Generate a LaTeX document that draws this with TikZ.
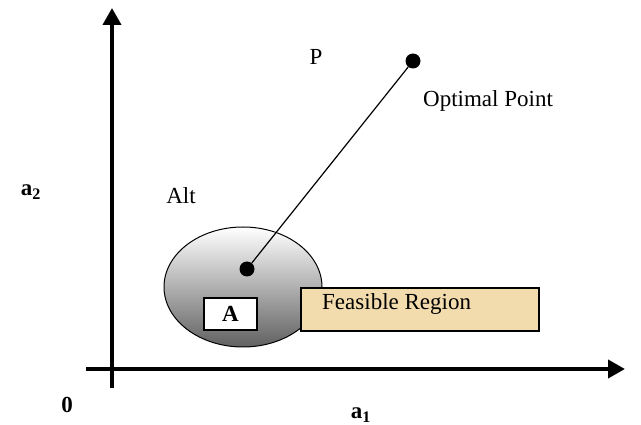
\documentclass[tikz,border=0pt]{standalone}
\usepackage{fontspec}
\setmainfont{Liberation Serif}
\usetikzlibrary{arrows.meta,shapes.geometric}
\definecolor{tan}{HTML}{F2DCAE}
\begin{document}
\begin{tikzpicture}[x=1pt,y=-1pt,
  axis/.style={line width=4pt,-{Triangle[length=17pt,width=18pt]}},
  lbl/.style={font=\fontsize{23}{27}\selectfont,inner sep=0pt},
  blbl/.style={font=\fontsize{23}{27}\selectfont\bfseries,inner sep=0pt},
  dot/.style={circle,fill=black,minimum size=15pt,inner sep=0pt}]
\useasboundingbox (0,0) rectangle (641,425);
\coordinate (yb) at (112,388);
\coordinate (yt) at (112,8);
\coordinate (xl) at (86,369);
\coordinate (xr) at (625,369);
\draw[axis] (yb) -- (yt);
\draw[axis] (xl) -- (xr);
\node[ellipse,draw,line width=1pt,minimum width=158pt,minimum height=120pt,
  top color=white,bottom color=black!62,inner sep=0pt] (alt) at (243,287) {};
\node[draw,line width=1.5pt,fill=white,minimum width=53pt,minimum height=32pt,
  inner sep=0pt,blbl] (A) at (230.5,314) {A};
\node[draw,line width=1.5pt,fill=tan,minimum width=238pt,minimum height=43pt,
  inner sep=0pt,anchor=west] (fr) at (300,309.5) {};
\node[lbl,anchor=west] (frt) at (322,304) {Feasible Region};
\node[dot] (d1) at (247,269) {};
\node[dot] (d2) at (413,61) {};
\draw[line width=1.2pt] (d1) -- (d2);
\node[lbl] (P) at (316,57) {P};
\node[lbl,anchor=west] (op) at (423,101) {Optimal Point};
\node[lbl] (altl) at (181,196) {Alt};
\node[blbl] (a2) at (31,192) {a\textsubscript{2}};
\node[blbl] (o) at (67,405) {0};
\node[blbl] (a1) at (361,415) {a\textsubscript{1}};
\end{tikzpicture}
\end{document}
